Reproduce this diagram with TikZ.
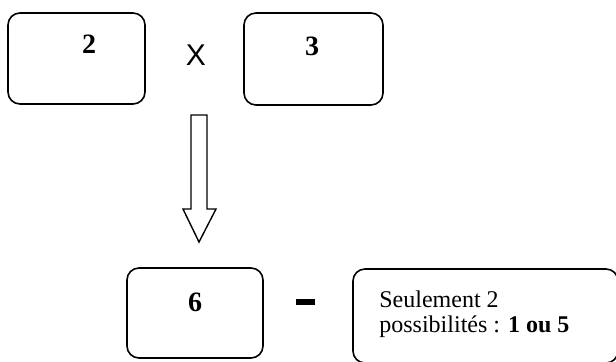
\documentclass[tikz,border=0pt]{standalone}
\usepackage{fontspec}
\setmainfont{Liberation Serif}
\newfontfamily\croixfont{Liberation Sans}
\begin{document}
\begin{tikzpicture}[x=0.5pt, y=-0.5pt,
    boite/.style={draw, line width=0.8pt, rounded corners=6pt, minimum width=68.5pt, minimum height=45.5pt, inner sep=0pt},
    chiffre/.style={font=\fontsize{14}{16}\selectfont\bfseries, inner sep=0pt}]
    \useasboundingbox (0,0) rectangle (616,361);
    % cases du haut
    \node[boite] (b2) at (76.5,58.5) {};
    \node[boite, minimum width=69.5pt, minimum height=46pt] (b3) at (313.5,59) {};
    \node[chiffre] (n2) at (89,44) {2};
    \node[chiffre] (n3) at (312,46) {3};
    \node[font=\croixfont\fontsize{15}{17}\selectfont, inner sep=0pt] (x) at (196,55) {X};
    % fleche
    \coordinate (A) at (191,115);
    \coordinate (B) at (207,115);
    \coordinate (C) at (207,209);
    \coordinate (D) at (216,209);
    \coordinate (E) at (199,242);
    \coordinate (F) at (183,209);
    \coordinate (G) at (191,209);
    \draw[line width=0.7pt, line join=miter] (A) -- (B) -- (C) -- (D) -- (E) -- (F) -- (G) -- cycle;
    % cases du bas
    \node[boite, minimum width=68pt, minimum height=45pt] (b6) at (195,313) {};
    \node[chiffre] (n6) at (195,302) {6};
    \fill (296,299) rectangle (315,305);
    \begin{scope}
    \clip (0,0) rectangle (616,361);
    \node[boite, minimum width=132.5pt, minimum height=47pt] (rep) at (485.5,316) {};
    \end{scope}
    \node[anchor=north west, align=left, inner sep=0pt, font=\fontsize{12}{12.5}\selectfont] (txt) at (379,290.6)
        {Seulement 2\\possibilités : \textbf{1 ou 5}};
\end{tikzpicture}
\end{document}
